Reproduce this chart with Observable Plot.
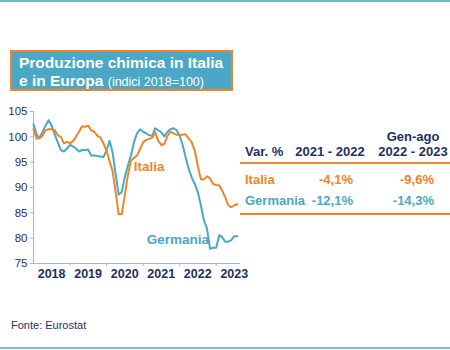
<!DOCTYPE html>
<html><head><meta charset="utf-8">
<script src="https://cdn.jsdelivr.net/npm/d3@7"></script>
<script src="https://cdn.jsdelivr.net/npm/@observablehq/plot@0.6"></script>
<style>
body{margin:0;background:#fff;font-family:"Liberation Sans",Arial,sans-serif;}
#wrap{position:relative;width:450px;height:350px;overflow:hidden;background:#fff;}
#chart{position:absolute;left:0;top:0;}
.abs{position:absolute;white-space:nowrap;}
#topline{position:absolute;left:0;top:0;width:450px;height:2px;background:#6fb8c8;}
#botline{position:absolute;left:0;top:347px;width:450px;height:2px;background:#7fbfcc;}
#title{position:absolute;left:10px;top:50px;width:219px;height:37px;background:#4aa8c6;border:2px solid #f0842a;color:#fff;font-weight:bold;font-size:15.5px;line-height:18px;padding:0 0 0 0;}
#title div{position:absolute;left:7px;white-space:nowrap;}
#title .sub{font-weight:normal;font-size:12.5px;}
.hdr{color:#1f2f5f;font-weight:bold;font-size:13px;}
.it{color:#f0842a;font-weight:bold;font-size:13px;}
.de{color:#4aa8c6;font-weight:bold;font-size:13px;}
.rule{position:absolute;left:240px;width:210px;height:2px;background:#f0842a;}
#src{position:absolute;left:11px;top:319px;font-size:11px;color:#1f2f5f;}
</style></head>
<body><div id="wrap">
<div id="topline"></div>
<div id="title"><div style="top:2px">Produzione chimica in Italia</div><div style="top:20px">e in Europa <span class="sub">(indici 2018=100)</span></div></div>
<div id="chart"></div>
<div id="table"></div>
<div id="src">Fonte: Eurostat</div>
<div id="botline"></div>
</div>
<script>
// Monthly index, Jan 2018 – Aug 2023 (2018=100)
const italia = [101.5,99.6,99.7,100.2,101.3,101.5,101.5,101.3,100.3,100,98.7,99,
  98.7,99.2,100,101,102.1,102,102.2,101.3,101,100.2,99.9,98.7,
  97.3,95.1,93.3,89.1,84.7,84.7,88.4,92.4,95.3,95.8,96.3,97.6,
  98.9,99.4,99.6,99.8,100.9,99.2,98.4,98.6,100.2,101,100.7,100.4,
  100.4,100.4,100.5,99.7,98.9,97.3,94.3,91.6,91.6,92.2,91.8,90.7,
  90.5,90.4,89.4,88.1,86.5,86.1,86.5,86.7];
const germania = [102.5,100.5,99.8,100.9,102.2,103.3,102.2,100.5,98.9,97.4,97.1,97.7,
  98.4,98.1,97.7,97.1,97.4,97.4,97.5,96.3,96.3,96.2,96.1,96,
  97.3,99.2,97,92.7,88.6,89.1,92,94.3,96.3,98.9,100.7,101.5,
  101,100.7,100.3,100.2,101.7,101.3,100.9,100.1,101,101.5,101.7,101.3,
  100.2,98.3,96,93.7,92,90.7,89.1,86.5,83.5,81.9,77.9,78.1,
  78.1,80.6,80.2,79.3,79.3,79.6,80.4,80.4];
const years = [2018,2019,2020,2021,2022,2023];
const yTicks = [75,80,85,90,95,100,105];
const tableHeader = ["Var. %","2021 - 2022","Gen-ago","2022 - 2023"];
const tableRows = [
  {paese:"Italia", v1:"-4,1%", v2:"-9,6%", cls:"it"},
  {paese:"Germania", v1:"-12,1%", v2:"-14,3%", cls:"de"}
];
const ORANGE = "#f0842a", TEAL = "#4aa8c6", NAVY = "#1f2f5f", AXIS = "#a9b6c9";

const start = new Date(Date.UTC(2018,0,1));
const toRows = (arr, s) => arr.map((v,i) => ({date: d3.utcMonth.offset(start, i), v, s}));
const data = toRows(italia, "Italia").concat(toRows(germania, "Germania"));
const yearStarts = years.slice(1).map(y => new Date(Date.UTC(y,0,1)));
const yearMids = years.map(y => new Date(Date.UTC(y,6,1)));

const plot = Plot.plot({
  width: 450, height: 350,
  marginLeft: 33, marginRight: 210, marginTop: 111, marginBottom: 87,
  style: {fontFamily: '"Liberation Sans", Arial, sans-serif', background: "transparent"},
  x: {type: "utc", domain: [start, new Date(Date.UTC(2023,8,1))], axis: null},
  y: {domain: [75,105], axis: null},
  marks: [
    Plot.axisY({ticks: yTicks, tickSize: 3, stroke: AXIS, color: NAVY, fontSize: 11.5, tickPadding: 3, label: null}),
    Plot.axisX({ticks: yearStarts, tickSize: 3, stroke: AXIS, tickFormat: () => "", label: null}),
    Plot.axisX({ticks: yearMids, tickSize: 0, tickPadding: 6, color: NAVY, fontSize: 12.5, fontWeight: "bold", tickFormat: d3.utcFormat("%Y"), label: null}),
    Plot.ruleY([75], {stroke: AXIS}),
    Plot.ruleX([start], {stroke: AXIS}),
    Plot.line(data.filter(d => d.s === "Germania"), {x: "date", y: "v", stroke: TEAL, strokeWidth: 2}),
    Plot.line(data.filter(d => d.s === "Italia"), {x: "date", y: "v", stroke: ORANGE, strokeWidth: 2}),
    Plot.text([{date: new Date(Date.UTC(2021,2,1)), v: 94.1, t: "Italia", c: ORANGE},
               {date: new Date(Date.UTC(2021,11,15)), v: 79.7, t: "Germania", c: TEAL}],
      {x: "date", y: "v", text: "t", fill: "c", fontSize: 13.5, fontWeight: "bold"})
  ]
});
document.getElementById("chart").appendChild(plot);

// table
const tbl = document.getElementById("table");
function put(text, cls, left, top, align) {
  const d = document.createElement("div");
  d.className = "abs " + cls;
  d.textContent = text;
  d.style.top = top + "px";
  if (align === "right") { d.style.right = (450 - left) + "px"; }
  else if (align === "center") { d.style.left = (left - 60) + "px"; d.style.width = "120px"; d.style.textAlign = "center"; }
  else d.style.left = left + "px";
  tbl.appendChild(d);
}
put(tableHeader[0], "hdr", 245, 144);
put(tableHeader[1], "hdr", 330, 144, "center");
put(tableHeader[2], "hdr", 413, 129, "center");
put(tableHeader[3], "hdr", 413, 144, "center");
const r1 = document.createElement("div"); r1.className = "rule"; r1.style.top = "162px"; tbl.appendChild(r1);
tableRows.forEach((r, i) => {
  const top = 172 + i * 21;
  put(r.paese, r.cls, 245, top);
  put(r.v1, r.cls, 353, top, "right");
  put(r.v2, r.cls, 434, top, "right");
});
const r2 = document.createElement("div"); r2.className = "rule"; r2.style.top = "213px"; tbl.appendChild(r2);
</script>
</body></html>
